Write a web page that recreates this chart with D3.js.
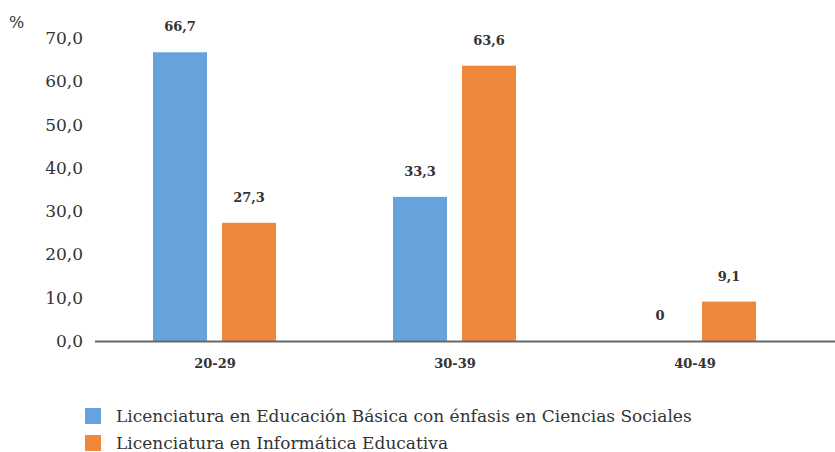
<!DOCTYPE html>
<html><head><meta charset="utf-8">
<script src="https://cdn.jsdelivr.net/npm/d3@7"></script>
<style>body{margin:0;background:#fff}svg{display:block}</style>
</head><body>
<svg id="c" width="835" height="452"></svg>
<script>
const categories = ["20-29", "30-39", "40-49"];
const seriesNames = ["Licenciatura en Educación Básica con énfasis en Ciencias Sociales", "Licenciatura en Informática Educativa"];
const basica = [66.7, 33.3, 0];
const informatica = [27.3, 63.6, 9.1];
const yTicks = [0, 10, 20, 30, 40, 50, 60, 70];
const colors = ["#65a3da", "#ef883b"];

const svg = d3.select("#c");
const serif = "'DejaVu Serif', serif";
const x = d3.scaleBand().domain(categories).range([95, 815]);
const y = d3.scaleLinear().domain([0, 70]).range([341, 38]);
const fmt = v => d3.format(".1f")(v).replace(".", ",");
const lab = v => v === 0 ? "0" : fmt(v);

// y tick labels
svg.append("g").selectAll("text").data(yTicks).join("text")
  .attr("x", 83).attr("y", d => y(d)).attr("dy", "0.35em")
  .attr("text-anchor", "end").attr("font-family", serif).attr("font-size", 17)
  .attr("fill", "#333").text(fmt);
svg.append("text").attr("x", 9).attr("y", 28).attr("font-family", serif)
  .attr("font-size", 16).attr("fill", "#333").text("%");

const series = [basica, informatica];
const offs = [-62, 7];
series.forEach((vals, si) => {
  const g = svg.append("g");
  g.selectAll("rect").data(vals).join("rect")
    .attr("x", (d, i) => x(categories[i]) + x.bandwidth() / 2 + offs[si])
    .attr("width", 54)
    .attr("y", d => y(d)).attr("height", d => y(0) - y(d))
    .attr("fill", colors[si]);
  g.selectAll("text").data(vals).join("text")
    .attr("x", (d, i) => x(categories[i]) + x.bandwidth() / 2 + offs[si] + 27)
    .attr("y", d => y(d) - 21)
    .attr("text-anchor", "middle").attr("font-family", serif).attr("font-weight", "bold")
    .attr("font-size", 13).attr("fill", "#333").text(lab);
});

// axis line
svg.append("line").attr("x1", 95).attr("x2", 835).attr("y1", y(0) + 0.5).attr("y2", y(0) + 0.5)
  .attr("stroke", "#666").attr("stroke-width", 2);
svg.append("g").selectAll("text").data(categories).join("text")
  .attr("x", d => x(d) + x.bandwidth() / 2).attr("y", 368)
  .attr("text-anchor", "middle").attr("font-family", serif).attr("font-weight", "bold")
  .attr("font-size", 13).attr("fill", "#333").text(d => d);

// legend
const lg = svg.append("g");
seriesNames.forEach((n, i) => {
  lg.append("rect").attr("x", 85).attr("y", 408 + i * 27).attr("width", 16).attr("height", 16).attr("fill", colors[i]);
  lg.append("text").attr("x", 116).attr("y", 416 + i * 27).attr("dy", "0.35em")
    .attr("font-family", serif).attr("font-size", 17).attr("fill", "#333").text(n);
});
</script>
</body></html>
